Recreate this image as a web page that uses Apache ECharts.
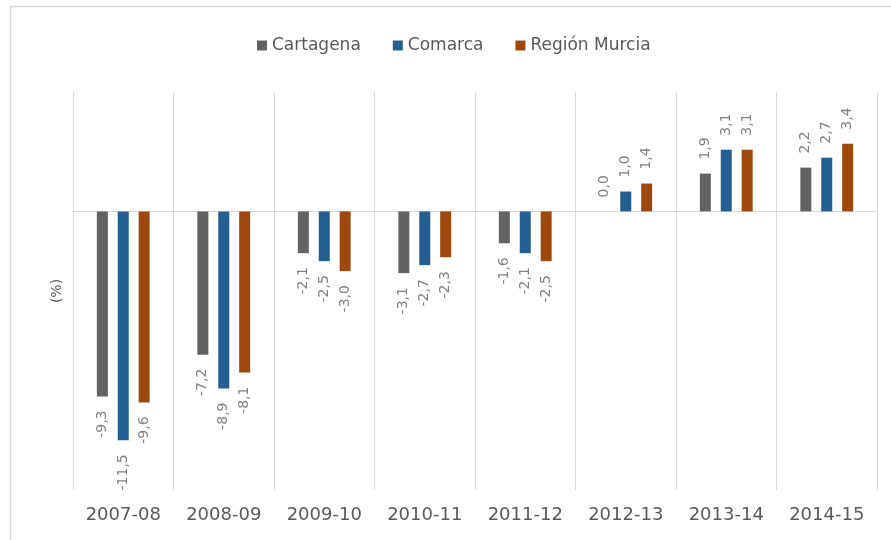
<!DOCTYPE html>
<html>
<head>
<meta charset="utf-8">
<script src="https://cdn.jsdelivr.net/npm/echarts@6/dist/echarts.min.js"></script>
<style>html,body{margin:0;padding:0;background:#fff;}#c{width:891px;height:540px;}</style>
</head>
<body>
<div id="c"></div>
<script>
const categories = ['2007-08','2008-09','2009-10','2010-11','2011-12','2012-13','2013-14','2014-15'];
const cartagena = [-9.3, -7.2, -2.1, -3.1, -1.6, 0.0, 1.9, 2.2];
const comarca = [-11.5, -8.9, -2.5, -2.7, -2.1, 1.0, 3.1, 2.7];
const regionMurcia = [-9.6, -8.1, -3.0, -2.3, -2.5, 1.4, 3.1, 3.4];
const seriesNames = ['Cartagena', 'Comarca', 'Región Murcia'];
const colors = ['#636363', '#255E91', '#9E480E'];

const FONT = 'DejaVu Sans';
function fmt(v){ return v.toFixed(1).replace('.', ','); }
function toData(arr){
  return arr.map(v => ({
    value: v,
    label: v < 0
      ? {position: 'bottom', align: 'right', verticalAlign: 'middle'}
      : {position: 'top', align: 'left', verticalAlign: 'middle'}
  }));
}
function mk(name, arr, color){
  return {
    name: name, type: 'bar', xAxisIndex: 0, data: toData(arr),
    barWidth: 11, barGap: '90%',
    itemStyle: {color: color},
    label: {show: true, rotate: 90, distance: 14, color: '#808080', fontFamily: FONT, fontSize: 14,
      formatter: p => fmt(p.value)}
  };
}
const chart = echarts.init(document.getElementById('c'), null, {renderer: 'canvas'});
chart.setOption({
  animation: false,
  backgroundColor: '#fff',
  graphic: [{type: 'rect', shape: {x: 10.5, y: 6.5, width: 1000, height: 1000}, style: {fill: null, stroke: '#d9d9d9', lineWidth: 1.5}, silent: true}],
  legend: {
    top: 32, left: 252, itemWidth: 10, itemHeight: 10, itemGap: 32,
    icon: 'rect',
    textStyle: {color: '#595959', fontFamily: FONT, fontSize: 17},
    data: seriesNames
  },
  grid: {left: 73, right: 14, top: 92, bottom: 50, containLabel: false},
  xAxis: [
    {type: 'category', data: categories, position: 'bottom',
     axisLine: {onZero: true, lineStyle: {color: '#d9d9d9', width: 1}},
     axisTick: {show: false}, axisLabel: {show: false}, splitLine: {show: false}},
    {type: 'category', data: categories, position: 'bottom',
     axisLine: {show: false, onZero: false}, axisTick: {show: false},
     axisLabel: {show: true, color: '#595959', fontFamily: FONT, fontSize: 18, margin: 16, interval: 0},
     splitLine: {show: true, interval: 0, lineStyle: {color: '#d9d9d9', width: 1}}}
  ],
  yAxis: {
    type: 'value', min: -14, max: 6, interval: 2,
    name: '(%)', nameLocation: 'middle', nameRotate: 90, nameGap: 9,
    nameTextStyle: {color: '#595959', fontFamily: FONT, fontSize: 14},
    axisLine: {show: false}, axisTick: {show: false}, axisLabel: {show: false},
    splitLine: {show: false}
  },
  series: [
    mk(seriesNames[0], cartagena, colors[0]),
    mk(seriesNames[1], comarca, colors[1]),
    mk(seriesNames[2], regionMurcia, colors[2])
  ]
});
</script>
</body>
</html>
